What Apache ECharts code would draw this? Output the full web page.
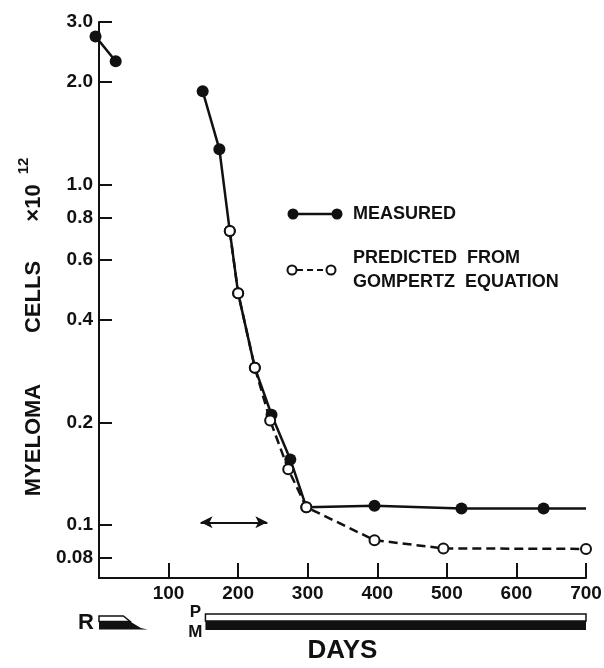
<!DOCTYPE html>
<html>
<head>
<meta charset="utf-8">
<script src="https://cdn.jsdelivr.net/npm/echarts@6.0.0/dist/echarts.min.js"></script>
<style>
  html, body { margin: 0; padding: 0; background: #fff; }
  #chart { width: 604px; height: 668px; }
</style>
</head>
<body>
<div id="chart"></div>
<script>
// values (cells x10^12, days)
const preDays = [-5, 24];
const preCells = [2.72, 2.30];
const measuredDays = [149, 173, 188, 200, 224, 248, 275, 298, 396, 521, 639, 700];
const measuredCells = [1.88, 1.27, 0.73, 0.48, 0.29, 0.211, 0.156, 0.113, 0.114, 0.112, 0.112, 0.112];
const predictedDays = [188, 200, 224, 246, 272, 298, 396, 495, 700];
const predictedCells = [0.73, 0.48, 0.29, 0.203, 0.146, 0.113, 0.0904, 0.0855, 0.0852];
const yTicks = [3.0, 2.0, 1.0, 0.8, 0.6, 0.4, 0.2, 0.1, 0.08];
const yTickLabels = ['3.0', '2.0', '1.0', '0.8', '0.6', '0.4', '0.2', '0.1', '0.08'];
const xTicks = [100, 200, 300, 400, 500, 600, 700];
const arrowDays = [146, 242];
const arrowCells = 0.102;
const treatmentNames = ['R', 'PM'];
const treatmentStart = [0, 153];
const treatmentEnd = [70, 700];

const yMin = 0.07;
const yMax = 3.0;
const ink = '#111';
const font = '"Liberation Sans", Arial, sans-serif';

const chart = echarts.init(document.getElementById('chart'));

const zip = (xs, ys) => xs.map((x, i) => [x, ys[i]]);

function yLabel(v) {
  const i = yTicks.findIndex((t) => Math.abs(v - t) / t < 1e-6);
  return i >= 0 ? yTickLabels[i] : '';
}

function textEl(text, x, y, size, rotation) {
  return {
    type: 'text', x, y, rotation: rotation || 0,
    style: { text, fill: ink, fontSize: size, fontFamily: font, fontWeight: 'bold', align: 'center', verticalAlign: 'middle' },
  };
}

function renderTreatment(params, api) {
  const idx = api.value(2);
  const start = api.coord([api.value(0), yMin]);
  const end = api.coord([api.value(1), yMin]);
  const x0 = start[0];
  const x1 = end[0];
  const y = start[1];
  const w = x1 - x0;
  if (treatmentNames[idx] === 'R') {
    return {
      type: 'group',
      children: [
        { type: 'polygon', shape: { points: [[x0, y + 38], [x0 + 0.5 * w, y + 38], [x0 + 0.64 * w, y + 43.5], [x0, y + 43.5]] },
          style: { fill: '#fff', stroke: ink, lineWidth: 1.5 } },
        { type: 'polygon', shape: { points: [[x0, y + 43], [x0 + 0.62 * w, y + 43], [x0 + 0.74 * w, y + 46.5], [x0 + 0.86 * w, y + 50], [x1, y + 51.5], [x0, y + 51.5]] },
          style: { fill: ink } },
        textEl('R', x0 - 13, y + 45, 22),
      ],
    };
  }
  return {
    type: 'group',
    children: [
      { type: 'rect', shape: { x: x0, y: y + 36, width: w, height: 7 }, style: { fill: '#fff', stroke: ink, lineWidth: 1.5 } },
      { type: 'rect', shape: { x: x0, y: y + 43, width: w, height: 9 }, style: { fill: ink } },
      textEl('P', x0 - 10, y + 34, 17),
      textEl('M', x0 - 10, y + 54, 17),
    ],
  };
}

const measuredData = zip(measuredDays, measuredCells).map((p, i, arr) =>
  i === arr.length - 1 ? { value: p, symbol: 'none' } : p);

chart.setOption({
  animation: false,
  backgroundColor: '#fff',
  grid: { left: 99, right: 18, top: 22, bottom: 90, outerBoundsMode: 'none' },
  xAxis: {
    type: 'value', min: 0, max: 700, interval: 100,
    name: 'DAYS', nameLocation: 'middle', nameGap: 60,
    nameTextStyle: { color: ink, fontSize: 26, fontFamily: font, fontWeight: 'bold' },
    axisLine: { lineStyle: { color: ink, width: 2 } },
    axisTick: { inside: true, length: 15, customValues: xTicks, lineStyle: { color: ink, width: 2 } },
    axisLabel: { customValues: xTicks, margin: 6, color: ink, fontSize: 19, fontFamily: font, fontWeight: 'bold' },
    splitLine: { show: false },
  },
  yAxis: {
    type: 'log', logBase: 10, min: yMin, max: yMax,
    axisLine: { lineStyle: { color: ink, width: 2 } },
    axisTick: { inside: true, length: 13, customValues: yTicks, lineStyle: { color: ink, width: 2 } },
    axisLabel: { customValues: yTicks, formatter: yLabel, margin: 6, color: ink, fontSize: 19, fontFamily: font, fontWeight: 'bold' },
    splitLine: { show: false },
  },
  graphic: [
    textEl('MYELOMA', 34, 440, 22, Math.PI / 2),
    textEl('CELLS', 34, 297, 22, Math.PI / 2),
    textEl('×10', 34, 203, 22, Math.PI / 2),
    textEl('12', 24, 166, 15, Math.PI / 2),
    { type: 'line', shape: { x1: 297, y1: 214, x2: 333, y2: 214 }, style: { stroke: ink, lineWidth: 2.5 } },
    { type: 'circle', shape: { cx: 293, cy: 214, r: 5.5 }, style: { fill: ink } },
    { type: 'circle', shape: { cx: 337, cy: 214, r: 5.5 }, style: { fill: ink } },
    { type: 'line', shape: { x1: 297, y1: 270, x2: 326, y2: 270 }, style: { stroke: ink, lineWidth: 2, lineDash: [6, 4] } },
    { type: 'circle', shape: { cx: 292, cy: 270, r: 4.5 }, style: { fill: '#fff', stroke: ink, lineWidth: 2 } },
    { type: 'circle', shape: { cx: 331, cy: 270, r: 4.5 }, style: { fill: '#fff', stroke: ink, lineWidth: 2 } },
    { type: 'text', x: 353, y: 214, style: { text: 'MEASURED', fill: ink, fontSize: 18, fontFamily: font, fontWeight: 'bold', verticalAlign: 'middle' } },
    { type: 'text', x: 353, y: 258, style: { text: 'PREDICTED  FROM', fill: ink, fontSize: 18, fontFamily: font, fontWeight: 'bold', verticalAlign: 'middle' } },
    { type: 'text', x: 353, y: 282, style: { text: 'GOMPERTZ  EQUATION', fill: ink, fontSize: 18, fontFamily: font, fontWeight: 'bold', verticalAlign: 'middle' } },
  ],
  series: [
    {
      name: 'before', type: 'line', clip: false, data: zip(preDays, preCells),
      symbol: 'circle', symbolSize: 12, itemStyle: { color: ink },
      lineStyle: { color: ink, width: 2.5 },
    },
    {
      name: 'MEASURED', type: 'line', clip: false, data: measuredData,
      symbol: 'circle', symbolSize: 12, itemStyle: { color: ink },
      lineStyle: { color: ink, width: 2.5 },
    },
    {
      name: 'PREDICTED FROM GOMPERTZ EQUATION', type: 'line', clip: false,
      data: zip(predictedDays, predictedCells),
      symbol: 'circle', symbolSize: 10,
      itemStyle: { color: '#fff', borderColor: ink, borderWidth: 2 },
      lineStyle: { color: ink, width: 2.5, type: [9, 5] },
      markLine: {
        silent: true, symbol: ['arrow', 'arrow'], symbolSize: [9, 12],
        label: { show: false },
        lineStyle: { color: ink, width: 2, type: 'solid' },
        data: [[{ coord: [arrowDays[0], arrowCells] }, { coord: [arrowDays[1], arrowCells] }]],
      },
    },
    {
      name: 'treatment', type: 'custom', clip: false, silent: true,
      data: treatmentStart.map((s, i) => [s, treatmentEnd[i], i]),
      encode: { x: [0, 1] },
      renderItem: renderTreatment,
    },
  ],
});
</script>
</body>
</html>
